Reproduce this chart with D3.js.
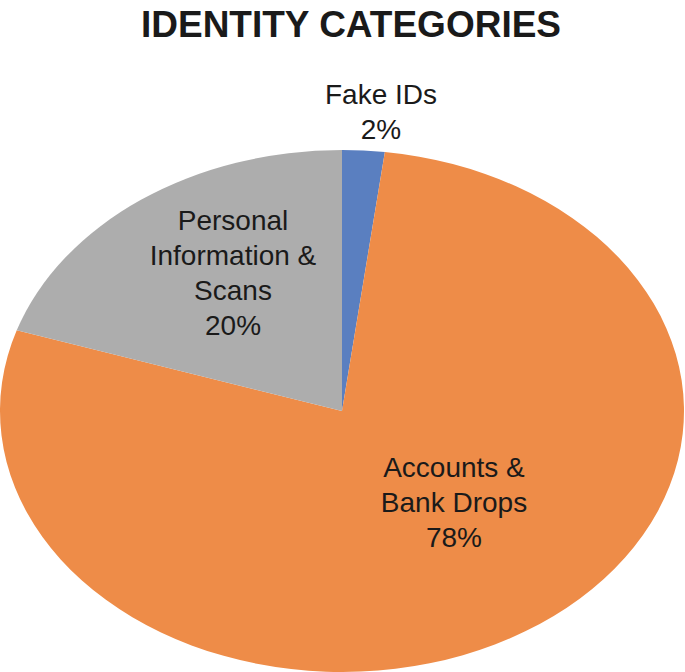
<!DOCTYPE html>
<html>
<head>
<meta charset="utf-8">
<script src="https://cdn.jsdelivr.net/npm/d3@7"></script>
<style>
  body { margin: 0; background: #fff; }
  text { font-family: "Liberation Sans", Arial, sans-serif; fill: #1a1a1a; }
</style>
</head>
<body>
<svg id="chart" width="685" height="672"></svg>
<script>
const categories = ["Fake IDs", "Accounts & Bank Drops", "Personal Information & Scans"];
const values = [2, 78, 20];
const labelLines = [["Fake IDs"], ["Accounts &", "Bank Drops"], ["Personal", "Information &", "Scans"]];
const colors = ["#5a7fc0", "#ee8c48", "#adadad"];

const width = 685, height = 672;
const cx = 342, cy = 411, rx = 342, ry = 261;
// label centre (first baseline) relative to pie centre, px
const labelAnchor = [[39, -307], [112, 66], [-109, -181]];
const lineHeight = 35;

const svg = d3.select("#chart");

svg.append("text")
  .attr("x", 351)
  .attr("y", 37)
  .attr("text-anchor", "middle")
  .attr("font-size", 37)
  .attr("font-weight", "bold")
  .text("IDENTITY CATEGORIES");

const data = categories.map((c, i) => ({ name: c, value: values[i], i }));
const pie = d3.pie().value((d) => d.value).sort(null);
const arc = d3.arc().innerRadius(0).outerRadius(rx);

svg.append("g")
  .attr("transform", `translate(${cx},${cy}) scale(1,${ry / rx})`)
  .selectAll("path")
  .data(pie(data))
  .join("path")
  .attr("d", arc)
  .attr("fill", (d) => colors[d.data.i]);

const labelG = svg.append("g").attr("transform", `translate(${cx},${cy})`);
data.forEach((d, i) => {
  const lines = labelLines[i].concat([`${d.value}%`]);
  const [lx, ly] = labelAnchor[i];
  const t = labelG.append("text")
    .attr("text-anchor", "middle")
    .attr("font-size", 28);
  lines.forEach((line, k) => {
    t.append("tspan")
      .attr("x", lx)
      .attr("y", ly + k * lineHeight)
      .text(line);
  });
});
</script>
</body>
</html>
